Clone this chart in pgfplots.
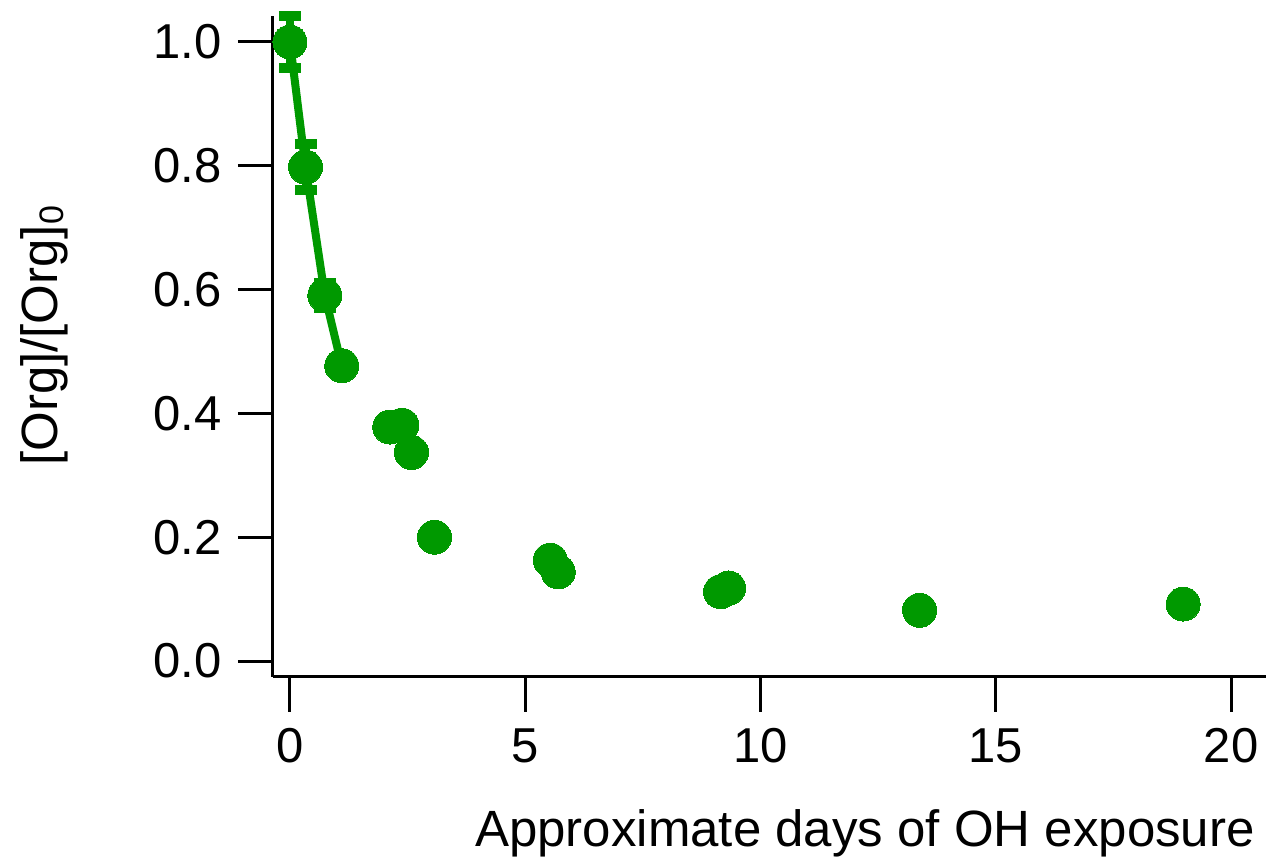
\documentclass[border=0pt]{standalone}
\usepackage{pgfplots}
\pgfplotsset{compat=1.18}
\usepackage{fontspec}
\setmainfont{Liberation Sans}
\definecolor{dgreen}{RGB}{0,153,0}
\begin{document}
\fontsize{24.5}{29}\selectfont
\begin{tikzpicture}
\useasboundingbox (-136.5pt,-92.5pt) rectangle (496.5pt,338.5pt);
\begin{axis}[
  at={(0,0)}, anchor=south west,
  scale only axis,
  width=496.5pt, height=330.5pt,
  xmin=-0.361, xmax=20.74,
  ymin=-0.0258, ymax=1.042,
  axis x line*=bottom, axis y line*=left,
  axis line style={line width=1.5pt, black},
  xtick={0,5,10,15,20},
  ytick={0,0.2,0.4,0.6,0.8,1.0},
  tick align=outside,
  major tick length=17.5pt,
  tick style={line width=1.5pt, black},
  /pgf/number format/assume math mode=true,
  yticklabel style={/pgf/number format/.cd, fixed, fixed zerofill, precision=1},
  ticklabel style={font=\fontsize{24.5}{29}\selectfont},
  xlabel={Approximate days of OH exposure},
  ylabel={[Org]/[Org]\raisebox{-0.25ex}{\fontsize{17}{17}\selectfont 0}},
  label style={font=\fontsize{25.5}{30}\selectfont},
  xlabel style={at={(axis description cs:0.989,-0.237)}, anchor=east, inner sep=0pt},
  ylabel style={at={(axis description cs:-0.2306,0.516)}, anchor=center},
  clip=false,
]
\addplot[color=dgreen, line width=4pt, mark=*, mark size=8.5pt,
  mark options={solid, fill=dgreen, draw=dgreen, line width=0pt},
  error bars/.cd, y dir=both, y explicit,
  error mark=-,
  error bar style={line width=4pt, dgreen},
  error mark options={line width=5pt, mark size=5.5pt, dgreen, rotate=90}]
coordinates {
  (0.0, 1.0) +- (0, 0.042)
  (0.33, 0.798) +- (0, 0.037)
  (0.74, 0.591) +- (0, 0.02)
  (1.10, 0.477) +- (0, 0.012)
};
\addplot[only marks, mark=*, mark size=8.5pt,
  mark options={fill=dgreen, draw=dgreen, line width=0pt}]
coordinates {
  (2.12, 0.378)
  (2.38, 0.381)
  (2.58, 0.337)
  (3.07, 0.200)
  (5.53, 0.163)
  (5.70, 0.144)
  (9.15, 0.112)
  (9.32, 0.118)
  (13.38, 0.082)
  (18.98, 0.092)
};
\end{axis}
\end{tikzpicture}
\end{document}
